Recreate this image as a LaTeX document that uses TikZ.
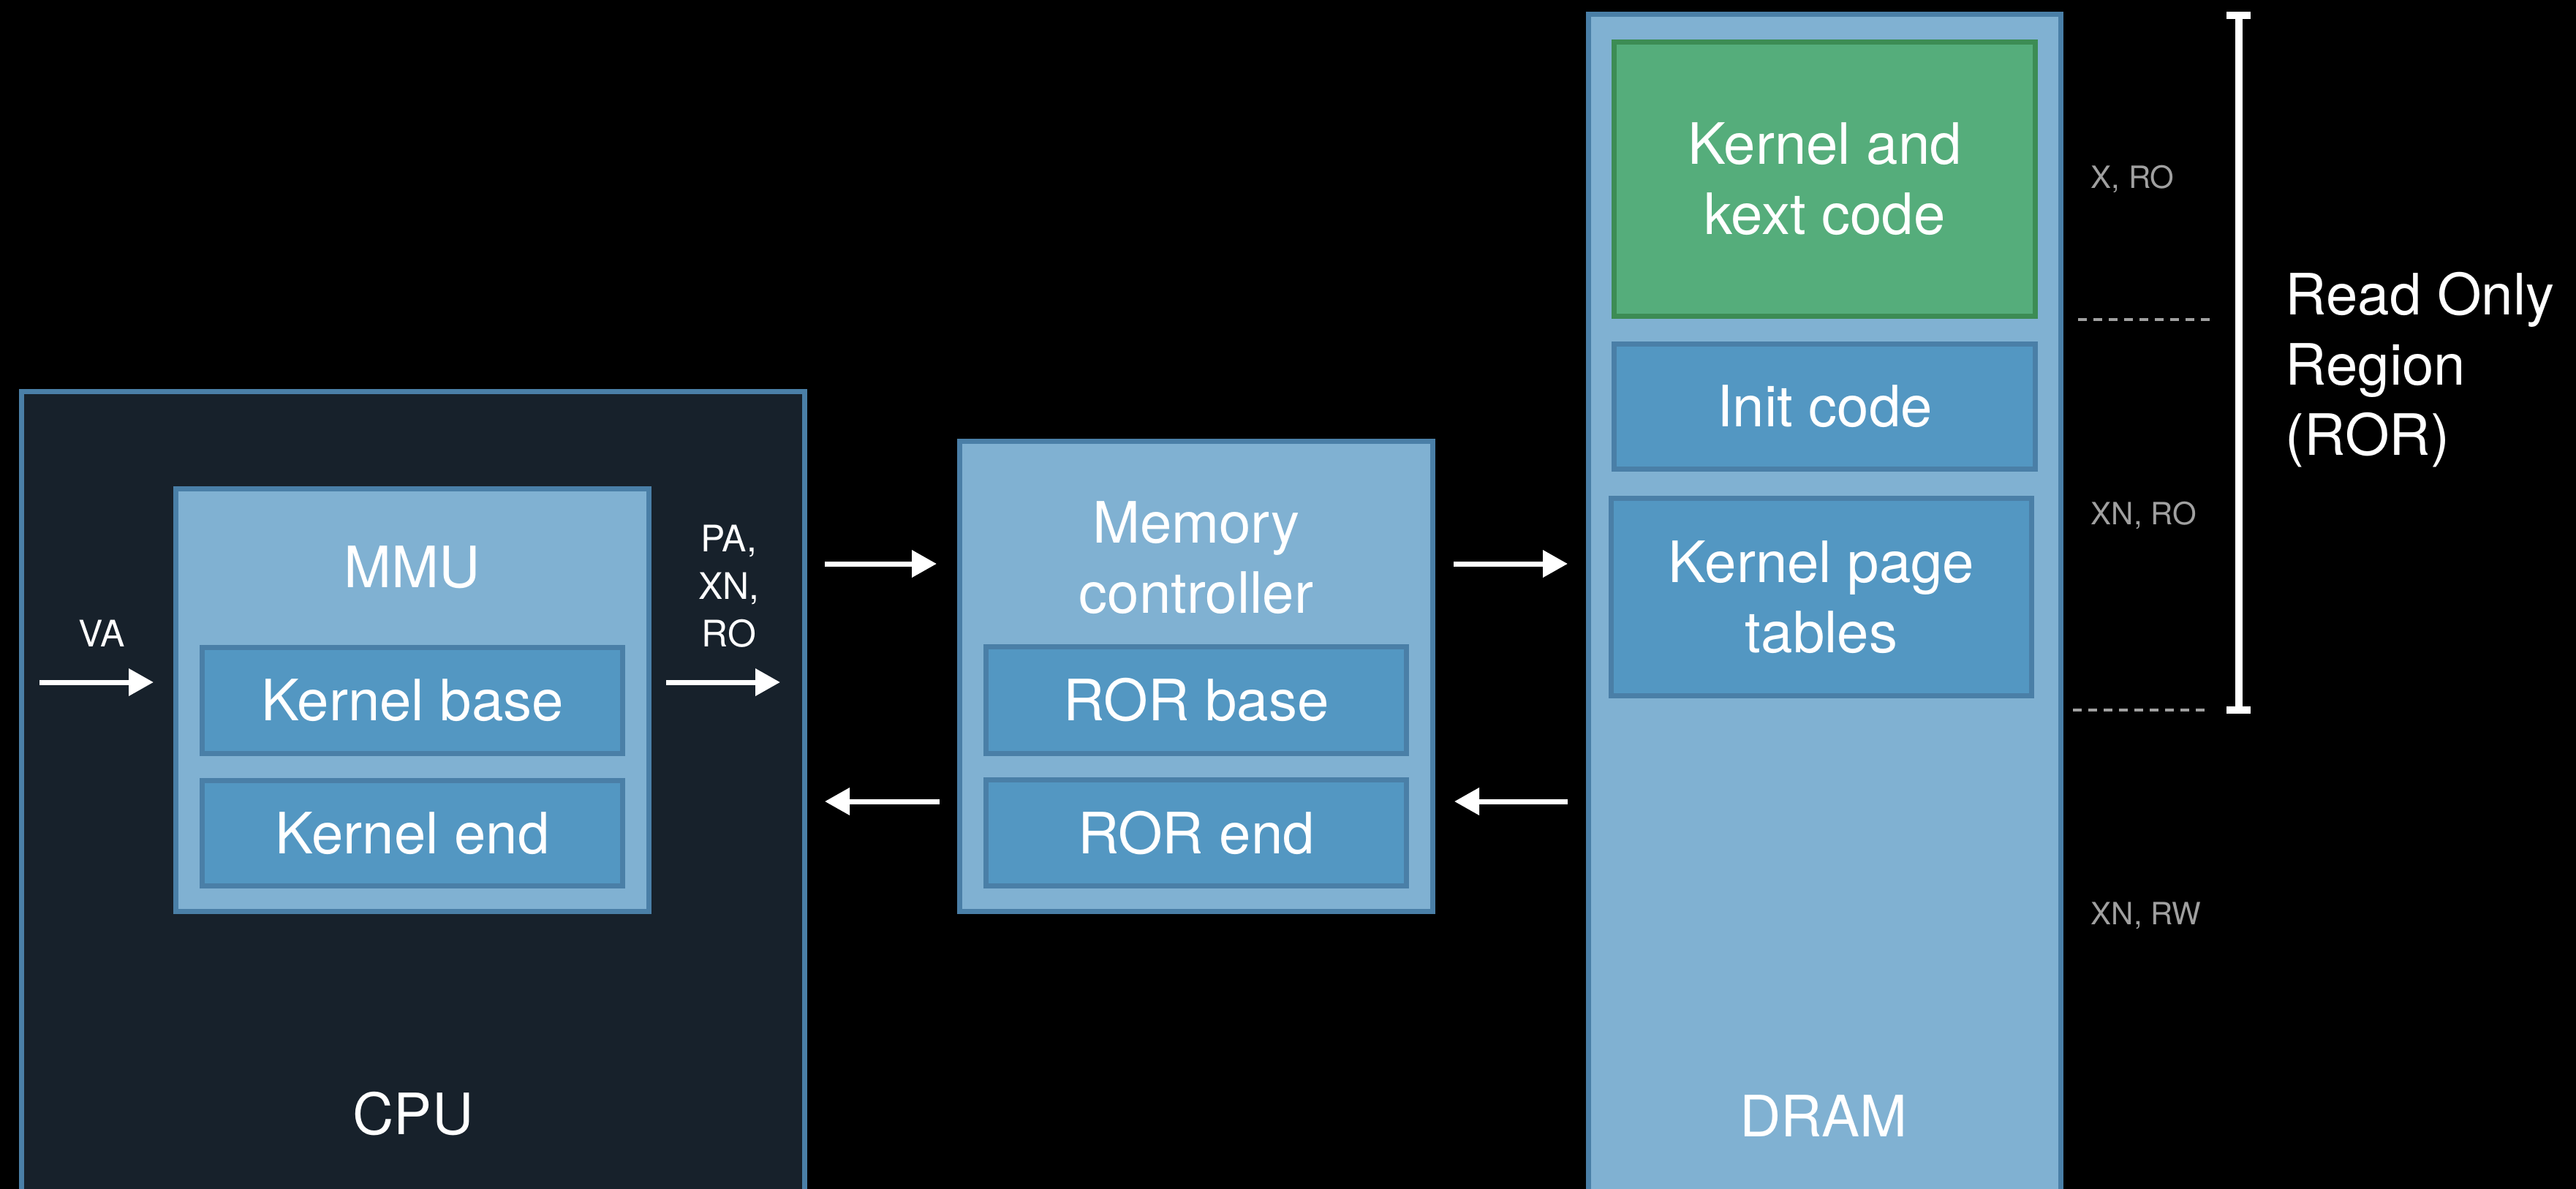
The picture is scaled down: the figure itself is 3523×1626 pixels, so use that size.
\documentclass[tikz,border=0pt]{standalone}
\usepackage{fontspec}
\setmainfont{TeX Gyre Heros}
\usetikzlibrary{arrows.meta}
\definecolor{cpufill}{HTML}{17212B}
\definecolor{edgeblue}{HTML}{4A7FA7}
\definecolor{lightblue}{HTML}{80B1D2}
\definecolor{midblue}{HTML}{5397C2}
\definecolor{greenfill}{HTML}{55AD7B}
\definecolor{greenedge}{HTML}{3C8C54}
\definecolor{greytext}{HTML}{A0A0A0}
\begin{document}
\begin{tikzpicture}[x=0.25pt,y=-0.25pt,
  big/.style={text=white, font=\fontsize{19.5pt}{24pt}\selectfont, align=center, inner sep=0pt},
  small/.style={text=white, font=\fontsize{12.5pt}{16.25pt}\selectfont, align=center, inner sep=0pt},
  grey/.style={text=greytext, font=\fontsize{10.5pt}{13pt}\selectfont, inner sep=0pt, anchor=west},
  darkbox/.style={draw=edgeblue, fill=cpufill, line width=1.75pt, inner sep=0pt},
  outerbox/.style={draw=edgeblue, fill=lightblue, line width=1.75pt, inner sep=0pt},
  innerbox/.style={big, draw=edgeblue, fill=midblue, line width=1.75pt, minimum width=143.75pt},
  greenbox/.style={big, draw=greenedge, fill=greenfill, line width=1.75pt, minimum width=144pt},
  arr/.style={white, line width=1.75pt, -{Triangle[length=8.5pt,width=9pt]}},
  sep/.style={greytext, line width=1pt, dash pattern=on 3pt off 2.25pt},
  bracket/.style={white, line width=2.5pt},
]
\useasboundingbox (0,0) rectangle (3523,1626);
\fill[black] (0,0) rectangle (3523,1626);
\clip (0,0) rectangle (3523,1626);

% CPU
\node[darkbox, minimum width=267.75pt, minimum height=282.75pt] (cpu) at (565,1101) {};
\node[outerbox, minimum width=161.75pt, minimum height=144.5pt] (mmu) at (564,957.5) {};
\node[big] (mmulbl) at (564,776) {MMU};
\node[innerbox, minimum height=36.25pt] (kbase) at (564,958) {Kernel base};
\node[innerbox, minimum height=36pt] (kend) at (564,1139.5) {Kernel end};
\node[big] (cpulbl) at (565,1523) {CPU};

% Memory controller
\node[outerbox, minimum width=161.75pt, minimum height=160.75pt] (mc) at (1636,925) {};
\node[big] (mclbl) at (1636,763) {Memory\\controller};
\node[innerbox, minimum height=36.5pt] (rbase) at (1636,957.5) {ROR base};
\node[innerbox, minimum height=36.25pt] (rend) at (1636,1139) {ROR end};

% DRAM
\node[outerbox, minimum width=161.5pt, minimum height=411.75pt] (dram) at (2495.5,843) {};
\node[greenbox, minimum height=93.75pt] (kcode) at (2495.5,245) {Kernel and\\kext code};
\node[innerbox, minimum width=144pt, minimum height=42.75pt] (init) at (2495.5,556) {Init code};
\node[innerbox, minimum height=67.5pt] (kpt) at (2491,816.5) {Kernel page\\tables};
\node[big] (dramlbl) at (2494,1526) {DRAM};

% arrows
\coordinate (vastart) at (54,933);
\coordinate (rowtop) at (0,771);
\coordinate (rowbot) at (0,1096);
\draw[arr, shorten >=6.75pt] (vastart) -- (mmu.west |- vastart);
\node[small] (va) at (139,866) {VA};
\draw[arr, shorten <=5pt, shorten >=9.25pt] (mmu.east |- vastart) -- (cpu.east |- vastart);
\node[small] (pa) at (997,802) {PA,\\XN,\\RO};
\draw[arr, shorten <=6pt, shorten >=7pt] (cpu.east |- rowtop) -- (mc.west |- rowtop);
\draw[arr, shorten <=6pt, shorten >=6pt] (mc.west |- rowbot) -- (cpu.east |- rowbot);
\draw[arr, shorten <=6.25pt, shorten >=6.25pt] (mc.east |- rowtop) -- (dram.west |- rowtop);
\draw[arr, shorten <=6.25pt, shorten >=6.5pt] (dram.west |- rowbot) -- (mc.east |- rowbot);

% access labels
\node[grey] (xro) at (2859,245) {X, RO};
\node[grey] (xnro) at (2859,705) {XN, RO};
\node[grey] (xnrw) at (2859,1252) {XN, RW};

% separators
\coordinate (s1a) at (2842,437);
\coordinate (s1b) at (3023,437);
\coordinate (s2a) at (2835,971);
\coordinate (s2b) at (3017,971);
\draw[sep] (s1a) -- (s1b);
\draw[sep] (s2a) -- (s2b);

% bracket
\coordinate (brtop) at (3062,21);
\coordinate (brbot) at (3062,971);
\draw[bracket] (brtop) -- (brbot);
\draw[bracket] ([xshift=-4.25pt]brtop) -- ([xshift=4pt]brtop);
\draw[bracket] ([xshift=-4.25pt]brbot) -- ([xshift=4pt]brbot);
\node[big, align=left, anchor=north west] (ror) at (3125,371) {Read Only\\Region\\(ROR)};
\end{tikzpicture}
\end{document}
